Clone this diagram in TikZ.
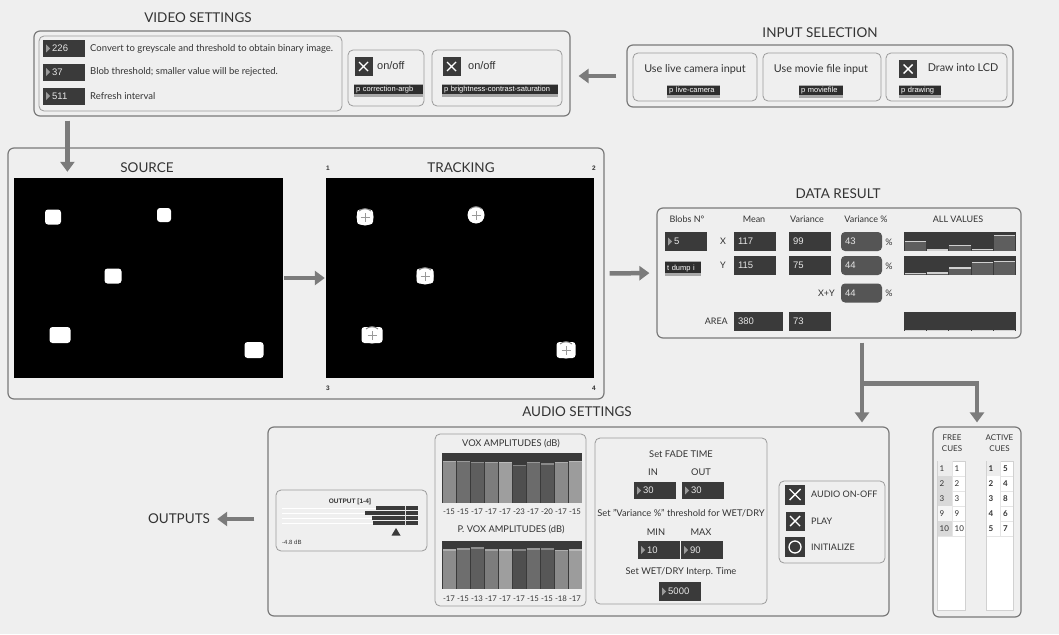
\documentclass[tikz,border=0pt]{standalone}
\usepackage{fontspec}
\setmainfont{Lato}
\newfontfamily\maxfont{Liberation Sans}
\usetikzlibrary{arrows.meta}

\definecolor{bgc}{HTML}{EFEFEF}
\definecolor{linec}{HTML}{7A7A7A}
\definecolor{subc}{HTML}{9A9A9A}
\definecolor{boxc}{HTML}{3A3A3A}
\definecolor{pctc}{HTML}{555555}
\definecolor{numc}{HTML}{E6E6E6}
\definecolor{tric}{HTML}{9A9A9A}
\definecolor{txtc}{HTML}{333333}
\definecolor{flowc}{HTML}{7B7B7B}
\definecolor{tagc}{HTML}{2E2E2E}
\definecolor{tagl}{HTML}{A8A8A8}
\definecolor{barc}{HTML}{5E5E5E}
\definecolor{barl}{HTML}{D0D0D0}

\tikzset{
  panel/.style={draw=linec, line width=1.2pt, rounded corners=6pt, inner sep=0pt},
  subpanel/.style={draw=subc, line width=0.8pt, rounded corners=5pt, inner sep=0pt},
  title/.style={font=\fontsize{13.5}{15}\selectfont, text=txtc, inner sep=0pt},
  lbl/.style={font=\fontsize{9.3}{11}\selectfont, text=txtc, inner sep=0pt},
  big/.style={font=\fontsize{10.8}{13}\selectfont, text=txtc, inner sep=0pt},
  hdr/.style={font=\fontsize{9}{10}\selectfont, text=txtc, inner sep=0pt},
  numbox/.style={fill=boxc, text=numc, font=\maxfont\fontsize{9.5}{10}\selectfont,
    inner xsep=4pt, inner ysep=0pt, minimum height=17pt, text width=34pt, align=left,
    execute at begin node=\hspace*{5pt},
    path picture={\fill[tric] ([xshift=3pt]path picture bounding box.west) ++(0,-4) -- ++(4,4) -- ++(-4,4) -- cycle;}},
  valbox/.style={fill=boxc, text=numc, font=\maxfont\fontsize{9.5}{10}\selectfont,
    inner xsep=4pt, inner ysep=0pt, minimum height=19pt, text width=#1, align=left},
  valbox/.default=34pt,
  pctbox/.style={valbox=33pt, fill=pctc, rounded corners=4pt},
  tag/.style={fill=tagc, text=white, font=\maxfont\fontsize{7.5}{8}\selectfont,
    inner xsep=2pt, inner ysep=0pt, minimum height=13pt, text width=#1, align=left,
    path picture={\fill[tagl] (path picture bounding box.south west) rectangle ([yshift=3pt]path picture bounding box.south east);
      \fill[tagl] (path picture bounding box.north west) rectangle ([yshift=-1pt]path picture bounding box.north east);}},
  xbox/.style={fill=boxc, minimum size=#1, inner sep=0pt,
    path picture={\draw[white, line width=1.4pt]
      ([shift={(4.5pt,4.5pt)}]path picture bounding box.south west) -- ([shift={(-4.5pt,-4.5pt)}]path picture bounding box.north east)
      ([shift={(4.5pt,-4.5pt)}]path picture bounding box.north west) -- ([shift={(-4.5pt,4.5pt)}]path picture bounding box.south east);}},
  xbox/.default=18pt,
  obox/.style={fill=boxc, minimum size=20pt, inner sep=0pt,
    path picture={\draw[white, line width=1.3pt] (path picture bounding box.center) circle[radius=6pt];}},
  blob/.style={fill=white, rounded corners=3pt, inner sep=0pt},
  chart/.style={fill=boxc, minimum width=112pt, minimum height=19pt, inner sep=0pt},
  listbox/.style={fill=white, draw=black!18, line width=0.5pt, inner sep=0pt},
  cue/.style={font=\fontsize{8}{9}\selectfont, text=txtc, inner sep=0pt, anchor=west},
  corner/.style={font=\maxfont\bfseries\fontsize{6.5}{7}\selectfont, text=txtc, inner sep=0pt},
  flow/.style={draw=flowc, line width=4.5pt, -{Triangle[width=14pt,length=10pt]}}
}

\begin{document}
\begin{tikzpicture}[x=1pt, y=-1pt]
\useasboundingbox (0,0) rectangle (1059,634);
\fill[bgc] (0,0) rectangle (1059,634);

% VIDEO SETTINGS
\node[title] (vstitle) at (198,18) {VIDEO SETTINGS};
\node[panel, minimum width=536, minimum height=85] (video) at (302,73.5) {};
\node[subpanel, minimum width=303, minimum height=75] (thresh) at (190.5,73.5) {};
\node[numbox, anchor=west] (bin) at (43,48.5) {226};
\node[numbox, anchor=west] (blobmin) at (43,72) {37};
\node[numbox, anchor=west] (refresh) at (43,96) {511};
\node[lbl, font=\fontsize{9.5}{11}\selectfont, anchor=west] (bintxt) at (90,49) {Convert to greyscale and threshold to obtain binary image.};
\node[lbl, font=\fontsize{9.5}{11}\selectfont, anchor=west] (blobtxt) at (90,72) {Blob threshold; smaller value will be rejected.};
\node[lbl, font=\fontsize{9.5}{11}\selectfont, anchor=west] (reftxt) at (90,96) {Refresh interval};
\node[subpanel, minimum width=76, minimum height=56] (argb) at (386,78) {};
\node[xbox] (argbx) at (363.5,66.5) {};
\node[big, font=\maxfont\fontsize{11}{13}\selectfont, anchor=west] (argbon) at (377,66) {on/off};
\node[tag=65pt, anchor=west] (argbtag) at (354,90) {p correction-argb};
\node[subpanel, minimum width=130, minimum height=56] (bcs) at (497,78) {};
\node[xbox] (bcsx) at (451.5,66.5) {};
\node[big, font=\maxfont\fontsize{11}{13}\selectfont, anchor=west] (bcson) at (468,66) {on/off};
\node[tag=112pt, anchor=west] (bcstag) at (442,90) {p brightness-contrast-saturation};

% INPUT SELECTION
\node[title] (intitle) at (820,33) {INPUT SELECTION};
\node[panel, minimum width=386, minimum height=62] (input) at (820,76) {};
\node[subpanel, minimum width=124, minimum height=48] (cam) at (695,77) {};
\node[big] (camtxt) at (695,69) {Use live camera input};
\node[tag=49pt, anchor=west] (camtag) at (667,91) {p live-camera};
\node[subpanel, minimum width=118, minimum height=48] (movie) at (822,77) {};
\node[big] (movtxt) at (821,69) {Use movie file input};
\node[tag=40pt, anchor=west] (movtag) at (799,91) {p moviefile};
\node[subpanel, minimum width=121, minimum height=48] (lcd) at (946.5,77) {};
\node[xbox] (lcdx) at (908,69) {};
\node[big] (lcdtxt) at (963,68) {Draw into LCD};
\node[tag=38pt, anchor=west] (lcdtag) at (899,91) {p drawing};

% SOURCE / TRACKING
\node[panel, minimum width=596, minimum height=251] (main) at (306,273.5) {};
\node[title] (srctitle) at (147,168) {SOURCE};
\node[title] (trktitle) at (461,168) {TRACKING};
\node[fill=black, minimum width=269, minimum height=200, inner sep=0pt] (source) at (148.5,278) {};
\node[fill=black, minimum width=268, minimum height=200, inner sep=0pt] (tracking) at (460,278) {};
\node[corner] (c1) at (328,168) {1};
\node[corner] (c2) at (594,168) {2};
\node[corner] (c3) at (328,388) {3};
\node[corner] (c4) at (594,388) {4};
\foreach \x/\y/\w/\h [count=\i] in {53/217/16/15, 164/215/14/14, 113/276/17/15, 60/335/21/16, 254/350/19/16} {
  \node[blob, minimum width=\w, minimum height=\h] (s\i) at (\x,\y) {};
  \node[blob, minimum width=\w, minimum height=\h] (t\i) at (\x+312,\y) {};
  \fill[white] (t\i.center) circle[radius=8.5pt];
  \draw[black!50, line width=0.9pt] ([xshift=-6pt,yshift=6pt]t\i.center) .. controls ([xshift=-2.5pt,yshift=9pt]t\i.center) and ([xshift=2.5pt,yshift=9pt]t\i.center) .. ([xshift=6pt,yshift=6pt]t\i.center);
  \draw[black!40, line width=0.5pt] ([xshift=-4.5pt]t\i.center) -- ([xshift=4.5pt]t\i.center)
    ([yshift=-4.5pt]t\i.center) -- ([yshift=4.5pt]t\i.center);
}

% DATA RESULT
\node[title] (drtitle) at (838,194) {DATA RESULT};
\node[panel, minimum width=364, minimum height=130] (data) at (839,273) {};
\node[hdr] (hblobs) at (687,219) {Blobs N°};
\node[hdr] (hmean) at (754,219) {Mean};
\node[hdr] (hvar) at (807,219) {Variance};
\node[hdr] (hpct) at (866,219) {Variance \%};
\node[hdr] (hall) at (958,219) {ALL VALUES};
\node[numbox, minimum height=19pt, anchor=west] (nblobs) at (665,241.5) {5};
\node[tag=32pt, minimum height=15pt, anchor=west] (dump) at (665,268.5) {t dump i};
\node[hdr] (lx) at (723,241.5) {X};
\node[hdr] (ly) at (723,265.5) {Y};
\node[hdr, anchor=east] (lxy) at (835,293) {X+Y};
\node[hdr, anchor=east] (larea) at (728,321) {AREA};
\node[valbox] (meanx) at (755,241.5) {117};
\node[valbox] (meany) at (755,265.5) {115};
\node[valbox=41pt] (meana) at (758.5,321) {380};
\node[valbox] (varx) at (810,241.5) {99};
\node[valbox] (vary) at (810,265.5) {75};
\node[valbox] (vara) at (810,321) {73};
\node[pctbox] (pctx) at (861.5,241.5) {43};
\node[pctbox] (pcty) at (861.5,265.5) {44};
\node[pctbox] (pctxy) at (861.5,293) {44};
\node[hdr] (px) at (889,242) {\%};
\node[hdr] (py) at (889,266) {\%};
\node[hdr] (pxy) at (889,293.5) {\%};
\node[chart] (chx) at (960,241.5) {};
\node[chart] (chy) at (960,265.5) {};
\node[chart] (cha) at (960,321) {};
\foreach \yb/\hs in {251/{.55,.09,.35,.13,.89}, 275/{.13,.15,.42,.75,.80}, 330.5/{.03,.03,.03,.03,.03}} {
  \foreach \h [count=\i] in \hs {
    \pgfmathsetmacro\xa{904+(\i-1)*22.4}
    \fill[barc] (\xa+0.6,\yb) rectangle (\xa+21.8,\yb-\h*18);
    \fill[barl] (\xa+0.6,\yb-\h*18) rectangle (\xa+21.8,\yb-\h*18+1.3);
  }
}

% AUDIO SETTINGS
\node[title] (autitle) at (577,412) {AUDIO SETTINGS};
\node[panel, minimum width=621, minimum height=189] (audio) at (578.5,521.5) {};
\node[subpanel, minimum width=151, minimum height=61] (outbox) at (351.5,520.5) {};
\node[corner, font=\maxfont\bfseries\fontsize{6.5}{7}\selectfont] (outtitle) at (350,502) {OUTPUT [1-4]};
\foreach \y/\s in {508.3/376, 513.3/365, 518.3/372, 523.3/373} {
  \draw[white, line width=1pt] (282,\y) -- (\s,\y);
  \fill[boxc] (\s,\y-2.1) rectangle (418,\y+2.1);
}
\draw[black!12, line width=0.8pt] (405,506) -- (405,525.5);
\fill[boxc] (396,528) -- (400.5,535.5) -- (391.5,535.5) -- cycle;
\node[corner, font=\maxfont\fontsize{6}{7}\selectfont, anchor=west] (outdb) at (282,542) {-4.8 dB};

\node[subpanel, minimum width=151, minimum height=172] (vox) at (510.5,520) {};
\node[lbl] (voxtitle) at (511,444) {VOX AMPLITUDES (dB)};
\node[fill=boxc, minimum width=140, minimum height=50, inner sep=0pt] (voxa) at (512,478) {};
\foreach \v/\c [count=\i] in {-15/45,-15/57,-17/63,-17/51,-17/38,-23/69,-17/58,-20/66,-17/46,-15/39} {
  \pgfmathsetmacro\xa{442+(\i-1)*14}
  \pgfmathsetmacro\ya{460.5+(-15-(\v))*0.5}
  \fill[black!\c] (\xa+0.5,\ya) rectangle (\xa+13.5,503);
  \fill[white, opacity=.3] (\xa+0.5,\ya) rectangle (\xa+13.5,\ya+1.5);
  \node[lbl, font=\fontsize{7.8}{9}\selectfont] (va\i) at (\xa+7,512) {\v};
}
\node[lbl] (pvoxtitle) at (511,530) {P. VOX AMPLITUDES (dB)};
\node[fill=boxc, minimum width=140, minimum height=48, inner sep=0pt] (voxb) at (512,565) {};
\foreach \v/\c [count=\i] in {-17/45,-15/57,-13/63,-17/51,-17/38,-17/69,-15/58,-15/66,-18/46,-17/39} {
  \pgfmathsetmacro\xa{442+(\i-1)*14}
  \pgfmathsetmacro\ya{548+(-15-(\v))*0.5}
  \fill[black!\c] (\xa+0.5,\ya) rectangle (\xa+13.5,589);
  \fill[white, opacity=.3] (\xa+0.5,\ya) rectangle (\xa+13.5,\ya+1.5);
  \node[lbl, font=\fontsize{7.8}{9}\selectfont] (vb\i) at (\xa+7,599) {\v};
}

\node[subpanel, minimum width=172, minimum height=166] (fade) at (681,521) {};
\node[lbl] (fadetxt) at (681,454) {Set FADE TIME};
\node[lbl] (lin) at (653,472) {IN};
\node[lbl] (lout) at (701,472) {OUT};
\node[numbox, anchor=west] (fadein) at (634,490.5) {30};
\node[numbox, anchor=west] (fadeout) at (682,490.5) {30};
\node[lbl] (wettxt) at (681,513) {Set "Variance \%" threshold for WET/DRY};
\node[lbl] (lmin) at (656,532) {MIN};
\node[lbl] (lmax) at (701,532) {MAX};
\node[numbox, minimum height=18pt, anchor=west] (wetmin) at (638,550) {10};
\node[numbox, minimum height=18pt, anchor=west] (wetmax) at (681,550) {90};
\node[lbl] (interptxt) at (681,572) {Set WET/DRY Interp. Time};
\node[numbox, minimum height=19pt, anchor=west] (interp) at (659,591.5) {5000};

\node[subpanel, minimum width=106, minimum height=82] (btns) at (832,522) {};
\node[xbox=20pt] (bon) at (795,494.5) {};
\node[xbox=19pt] (bplay) at (795,521) {};
\node[obox] (binit) at (795,547) {};
\node[hdr, anchor=west] (ton) at (811,494.5) {AUDIO ON-OFF};
\node[hdr, anchor=west] (tplay) at (811,521) {PLAY};
\node[hdr, anchor=west] (tinit) at (811,547) {INITIALIZE};

% OUTPUTS
\node[title] (outputs) at (179,519) {OUTPUTS};

% CUES
\node[panel, minimum width=88, minimum height=190] (cues) at (977,522) {};
\node[lbl, align=center, font=\fontsize{8}{11}\selectfont] (freetitle) at (952,443) {FREE\\CUES};
\node[lbl, align=center, font=\fontsize{8}{11}\selectfont] (acttitle) at (999.5,443) {ACTIVE\\CUES};
\node[listbox, minimum width=28, minimum height=149] (freelist) at (951,535.5) {};
\node[listbox, minimum width=27, minimum height=149] (actlist) at (999.5,535.5) {};
\foreach \a/\b/\c [count=\i] in {1/1/7, 2/2/15, 3/3/15, 9/9/4, 10/10/15} {
  \fill[black!\c] (937.5,446+\i*15) rectangle (952,461+\i*15);
  \draw[black!10, line width=0.4pt] (937.5,461+\i*15) -- (964.5,461+\i*15) (952,446+\i*15) -- (952,461+\i*15);
  \node[cue] (fa\i) at (939.5,453.5+\i*15) {\a};
  \node[cue] (fb\i) at (954.5,453.5+\i*15) {\b};
}
\foreach \a/\b/\c [count=\i] in {1/5/7, 2/4/0, 3/8/0, 4/6/0, 5/7/0} {
  \fill[black!\c] (986.5,446+\i*15) rectangle (1000,461+\i*15);
  \draw[black!10, line width=0.4pt] (986.5,461+\i*15) -- (1012.5,461+\i*15) (1000,446+\i*15) -- (1000,461+\i*15);
  \node[cue, font=\bfseries\fontsize{8}{9}\selectfont] (aa\i) at (988.5,453.5+\i*15) {\a};
  \node[cue, font=\bfseries\fontsize{8}{9}\selectfont] (ab\i) at (1003,453.5+\i*15) {\b};
}

% Flow
\coordinate (vsout) at ([xshift=34pt]video.south west);
\coordinate (split) at ([xshift=23pt,yshift=-45pt]data.south);
\draw[flow, shorten <=10pt, shorten >=8pt] (input.west) -- (input.west -| video.east);
\draw[flow, shorten <=4pt, shorten >=6pt] (vsout) -- (vsout |- source.north);
\draw[flow, shorten <=1pt, shorten >=1pt] (source.east) -- (tracking.west);
\draw[flow, shorten <=5pt, shorten >=7pt] (main.east) -- (data.west);
\draw[flow, shorten <=4pt, shorten >=4pt] ([xshift=23pt]data.south) -- ([xshift=23pt]data.south |- audio.north);
\draw[flow, shorten >=4pt] (split) -| (cues.north);
\draw[flow, shorten <=13pt, shorten >=7pt] (audio.west |- outputs) -- (outputs.east);

\end{tikzpicture}
\end{document}
